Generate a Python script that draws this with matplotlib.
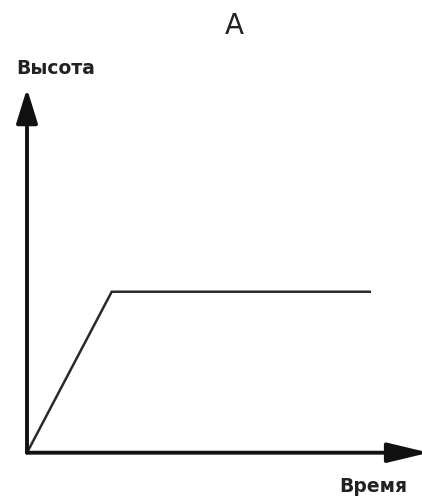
import matplotlib
matplotlib.use("Agg")
import matplotlib.pyplot as plt

# Data
time = [0, 2.15, 8.7]
height = [0, 4.5, 4.5]
title = "А"
xlabel = "Время"
ylabel = "Высота"

W, H = 422, 496
fig = plt.figure(figsize=(W / 100, H / 100), dpi=100)
x0, y0 = 27, 452.7
x1, y1 = 421, 95
ax = fig.add_axes([x0 / W, (H - y0) / H, (x1 - x0) / W, (y0 - y1) / H])
ax.set_xlim(0, 10)
ax.set_ylim(0, 10)
ax.axis("off")

ax.plot(time, height, color="#2a2a2a", lw=1.8, solid_joinstyle="miter", clip_on=False)

ax.annotate("", xy=(10.2, 0), xytext=(0, 0),
            arrowprops=dict(arrowstyle="-|>,head_length=25,head_width=6",
                            mutation_scale=1, lw=2.8, color="#111111",
                            shrinkA=0, shrinkB=0), annotation_clip=False)
ax.annotate("", xy=(0, 10.18), xytext=(0, 0),
            arrowprops=dict(arrowstyle="-|>,head_length=21,head_width=6.5",
                            mutation_scale=1, lw=2.8, color="#111111",
                            shrinkA=0, shrinkB=0), annotation_clip=False)

fig.text(234 / W, 1 - 26 / H, title, ha="center", va="center", fontsize=20,
         color="#222222")
fig.text(56 / W, 1 - 69 / H, ylabel, ha="center", va="center", fontsize=13.5,
         fontweight="bold", color="#222222")
fig.text(373 / W, 1 - 486 / H, xlabel, ha="center", va="center", fontsize=13.5,
         fontweight="bold", color="#222222")

fig.savefig("out.png", dpi=100, facecolor="white")
